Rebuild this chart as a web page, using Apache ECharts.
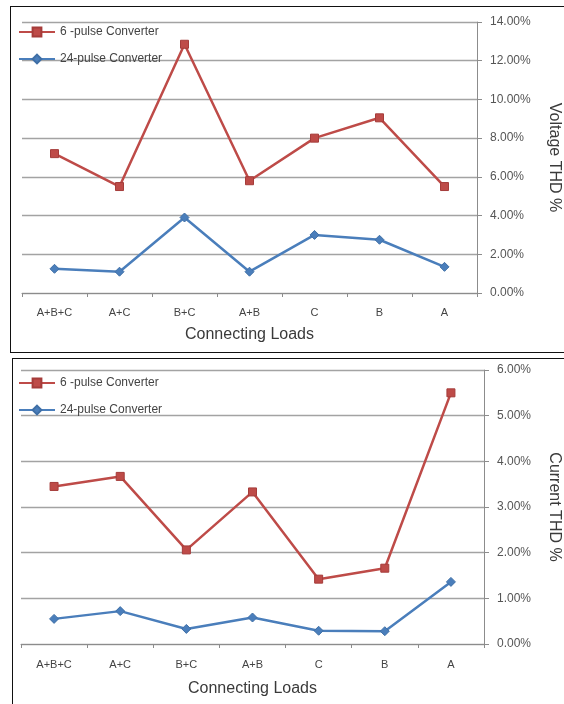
<!DOCTYPE html>
<html>
<head>
<meta charset="utf-8">
<script src="https://cdn.jsdelivr.net/npm/echarts@6/dist/echarts.min.js"></script>
<style>
  html, body { margin: 0; padding: 0; background: #fff; overflow: hidden; }
  body { width: 564px; height: 704px; position: relative; }
  .frame { position: absolute; border: 1.5px solid #111; box-sizing: border-box; border-right: none; }
  .chart { position: absolute; left: 0; width: 564px; }
</style>
</head>
<body>
<div class="frame" style="left:10px; top:6px; width:554px; height:347px;"></div>
<div class="frame" style="left:12px; top:358px; width:552px; height:346px; border-bottom:none;"></div>
<div id="voltage" class="chart" style="top:0; height:355px;"></div>
<div id="current" class="chart" style="top:355px; height:349px;"></div>
<script>
// Load combinations on the x axis
const categories = ['A+B+C', 'A+C', 'B+C', 'A+B', 'C', 'B', 'A'];

// Voltage THD (%)
const voltage6Pulse  = [7.2, 5.5, 12.85, 5.8, 8.0, 9.05, 5.5];
const voltage24Pulse = [1.25, 1.1, 3.9, 1.1, 3.0, 2.75, 1.35];

// Current THD (%)
const current6Pulse  = [3.45, 3.67, 2.06, 3.33, 1.42, 1.66, 5.5];
const current24Pulse = [0.55, 0.72, 0.33, 0.58, 0.29, 0.28, 1.36];

const seriesNames = ['6 -pulse Converter', '24-pulse Converter'];

const RED = '#BE4B48';
const BLUE = '#4A7EBB';
const FONT = 'Liberation Sans';

function buildOption(cfg) {
  return {
    animation: false,
    textStyle: { fontFamily: FONT },
    legend: {
      orient: 'vertical',
      left: 13,
      top: cfg.legendTop,
      itemWidth: 36,
      itemHeight: 11,
      itemGap: 15,
      data: seriesNames,
      textStyle: { fontSize: 12, color: '#444', fontFamily: FONT }
    },
    grid: Object.assign({ outerBoundsMode: 'none', containLabel: false }, cfg.grid),
    xAxis: {
      type: 'category',
      data: categories,
      boundaryGap: true,
      name: 'Connecting Loads',
      nameLocation: 'middle',
      nameGap: cfg.xNameGap,
      nameTextStyle: { fontSize: 16, color: '#3a3a3a', fontFamily: FONT },
      axisLine: { lineStyle: { color: '#8c8c8c', width: 1 } },
      axisTick: { show: true, length: 4, lineStyle: { color: '#8c8c8c' } },
      axisLabel: { fontSize: 11, color: '#444', margin: cfg.xLabelMargin, fontFamily: FONT }
    },
    yAxis: {
      type: 'value',
      position: 'right',
      min: 0,
      max: cfg.yMax,
      interval: cfg.yInterval,
      name: cfg.yName,
      nameLocation: 'middle',
      nameRotate: -90,
      nameGap: cfg.yNameGap,
      nameTextStyle: { fontSize: 16, color: '#3a3a3a', fontFamily: FONT },
      axisLine: { show: true, lineStyle: { color: '#8c8c8c', width: 1 } },
      axisTick: { show: true, length: 5, lineStyle: { color: '#8c8c8c' } },
      axisLabel: {
        fontSize: 12, color: '#555', margin: 13, fontFamily: FONT,
        formatter: v => v.toFixed(2) + '%'
      },
      splitLine: { show: true, lineStyle: { color: '#a3a3a3', width: 1.4 } }
    },
    series: [
      {
        name: seriesNames[0],
        type: 'line',
        data: cfg.data6,
        symbol: 'rect',
        symbolSize: 8,
        lineStyle: { color: RED, width: 2.5 },
        itemStyle: { color: RED, borderColor: '#a53c3a', borderWidth: 1 },
        z: 3
      },
      {
        name: seriesNames[1],
        type: 'line',
        data: cfg.data24,
        symbol: 'diamond',
        symbolSize: 9,
        lineStyle: { color: BLUE, width: 2.5 },
        itemStyle: { color: BLUE, borderColor: '#3f6fa6', borderWidth: 1 },
        z: 2
      }
    ]
  };
}

const voltageChart = echarts.init(document.getElementById('voltage'), null, { renderer: 'canvas' });
voltageChart.setOption(buildOption({
  legendTop: 21,
  grid: { left: 22, right: 87, top: 22, height: 271 },
  xNameGap: 34,
  xLabelMargin: 14,
  yMax: 14,
  yInterval: 2,
  yName: 'Voltage THD %',
  yNameGap: 69,
  data6: voltage6Pulse,
  data24: voltage24Pulse
}));

const currentChart = echarts.init(document.getElementById('current'), null, { renderer: 'canvas' });
currentChart.setOption(buildOption({
  legendTop: 17,
  grid: { left: 21, right: 80, top: 15, height: 274 },
  xNameGap: 37,
  xLabelMargin: 15,
  yMax: 6,
  yInterval: 1,
  yName: 'Current THD %',
  yNameGap: 62,
  data6: current6Pulse,
  data24: current24Pulse
}));
</script>
</body>
</html>
